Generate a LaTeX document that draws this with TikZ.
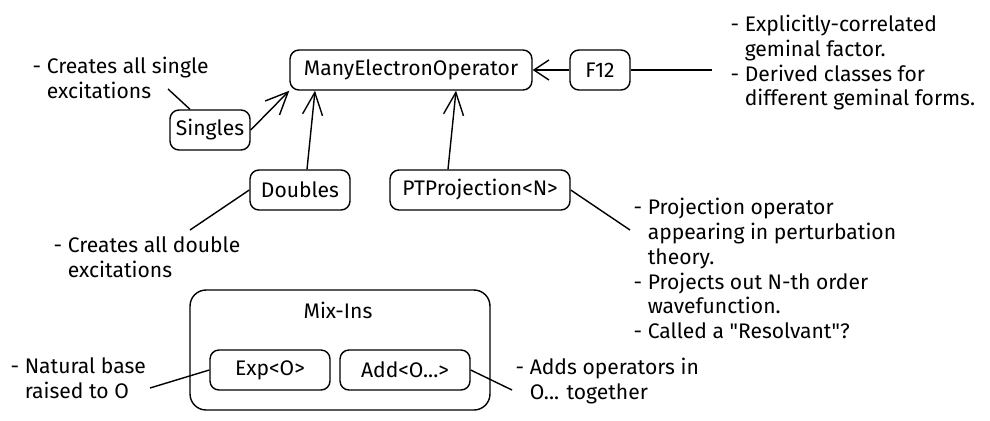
\documentclass[tikz,border=0pt]{standalone}
\usepackage{fontspec}
\setmainfont{Fira Sans}
\usetikzlibrary{calc,arrows.meta}

\begin{document}
\begin{tikzpicture}[x=0.02cm, y=-0.02cm, thick,
    >={Straight Barb[length=4.5mm,width=4mm]},
    cls/.style={draw, rounded corners=0.18cm, minimum height=0.8cm, inner sep=3pt, font={\fontsize{12}{14.2}\selectfont}},
    note/.style={anchor=north west, align=left, inner sep=0pt, font={\fontsize{12}{14.2}\selectfont}}]
    \path[use as bounding box, fill=white] (0,0) rectangle (990,420);
    \node[cls, minimum width=4.84cm] (meo) at (411,70) {ManyElectronOperator};
    \node[cls, minimum width=1.2cm] (f12) at (600,70) {F12};
    \node[cls, minimum width=1.6cm] (singles) at (210,130) {Singles};
    \node[cls, minimum width=2cm] (doubles) at (300,190) {Doubles};
    \node[cls, minimum width=3.6cm] (ptproj) at (480,190) {PTProjection<N>};
    \node[draw, rounded corners=0.32cm, minimum width=6cm, minimum height=2.4cm] (mixins) at (340,350) {};
    \node[font={\fontsize{12}{14.2}\selectfont}] (mixtitle) at (338,310) {Mix-Ins};
    \node[cls, minimum width=2.4cm] (expo) at (270,370) {Exp<O>};
    \node[cls, minimum width=2.6cm] (addo) at (405,370) {Add<O...>};
    \node[note] (sgnote) at (32,56) {- Creates all single\\\phantom{-~}excitations};
    \node[note] (dbnote) at (53,236) {- Creates all double\\\phantom{-~}excitations};
    \node[note] (f12note) at (730,14) {- Explicitly-correlated\\\phantom{-~}geminal factor.\\- Derived classes for\\\phantom{-~}different geminal forms.};
    \node[note] (ptnote) at (633,197) {- Projection operator\\\phantom{-~}appearing in perturbation\\\phantom{-~}theory.\\- Projects out N-th order\\\phantom{-~}wavefunction.\\- Called a \textquotedbl Resolvant\textquotedbl?};
    \node[note] (expnote) at (10,357) {- Natural base\\\phantom{-~}raised to O};
    \node[note] (addnote) at (515,357) {- Adds operators in\\\phantom{-~}O... together};
    \coordinate (sgend) at (168,89);
    \coordinate (dbend) at (190,230);
    \coordinate (ptend) at (630,230);
    \coordinate (f12end) at (712,70);
    \coordinate (expend) at (150,388);
    \coordinate (addend) at (512,390);
    \draw[->] (singles.east) -- (meo.south west);
    \draw[->] ($(doubles.north)+(7,0)$) -- ($(meo.south)+(-96,0)$);
    \draw[->] ($(ptproj.north)+(-32,0)$) -- ($(meo.south)+(45,0)$);
    \draw[{Straight Barb[length=3mm,width=4mm]}-] (meo.east) -- (f12.west);
    \draw (f12.east) -- (f12end);
    \draw ($(singles.north)+(-20,0)$) -- (sgend);
    \draw (doubles.west) -- (dbend);
    \draw (ptproj.east) -- (ptend);
    \draw (expo.west) -- (expend);
    \draw (addo.east) -- (addend);
\end{tikzpicture}
\end{document}
